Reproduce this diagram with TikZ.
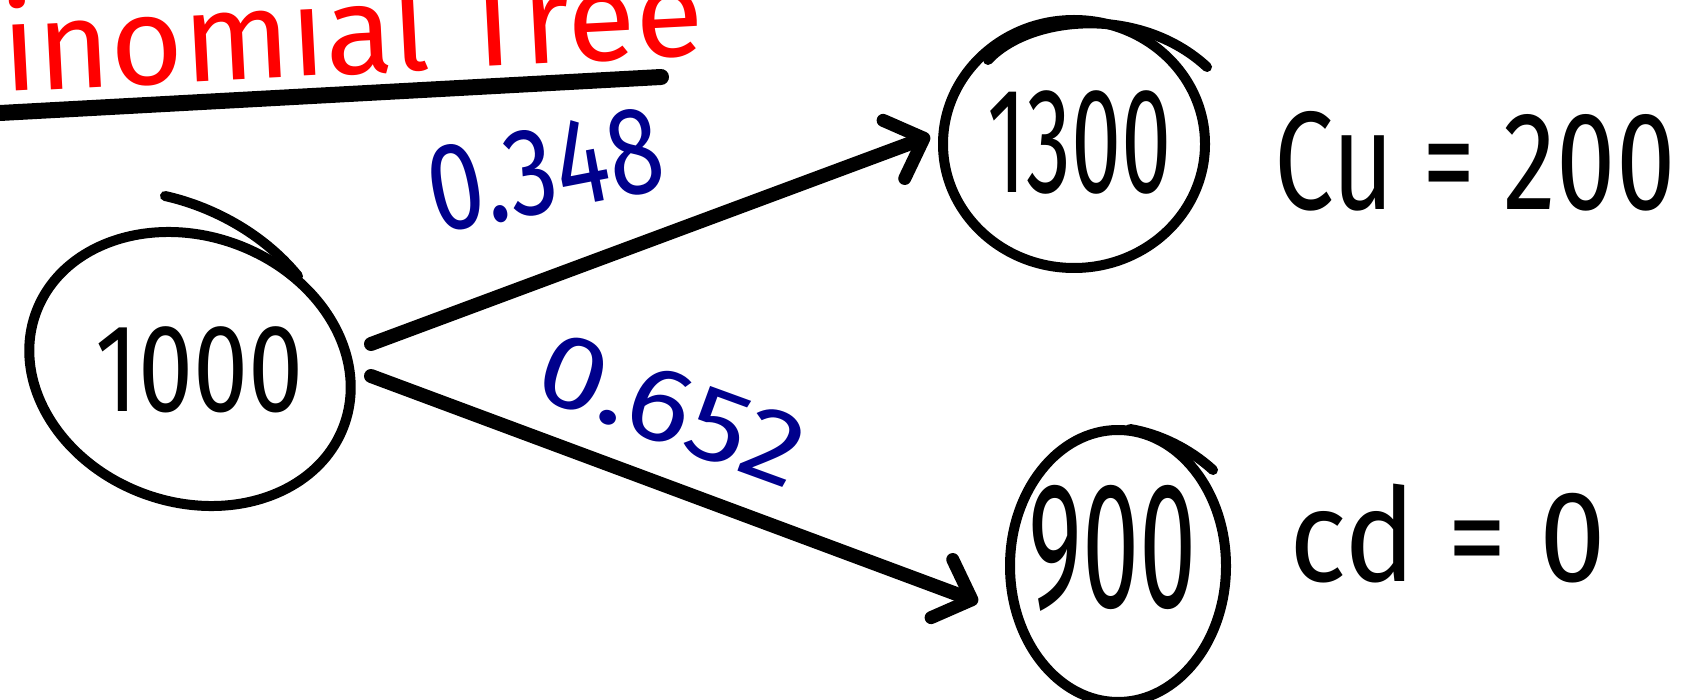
\documentclass[tikz,border=0pt]{standalone}
\usepackage{fontspec}
\setmainfont{Fira Sans}
\usetikzlibrary{shapes.geometric,arrows.meta}
\definecolor{inkblue}{RGB}{0,0,140}
\definecolor{inkred}{RGB}{255,0,0}
\newcommand{\hwtext}[3]{{\fontsize{#1}{#1}\selectfont\scalebox{#2}[1]{#3}}}
\begin{document}
\begin{tikzpicture}[x=1pt,y=-1pt,
  ink/.style={line width=10pt, line cap=round, line join=round},
  bubble/.style={ellipse, draw, ink, inner sep=0pt},
  branch/.style={line width=14pt, line cap=round, line join=round,
    -{Straight Barb[length=32pt,width=62pt,line width=13pt,round]}},
  prob/.style={text=inkblue, inner sep=0pt},
  plain/.style={inner sep=0pt}]
\useasboundingbox (0,0) rectangle (1685,700);
\clip (0,0) rectangle (1685,700);
\fill[white] (0,0) rectangle (1685,700);

% title
\node[plain, text=inkred, anchor=base west, rotate=3] (title) at (4,92) {\hwtext{125}{1.0}{inomial Tree}};
\coordinate (ulA) at (0,113);
\coordinate (ulB) at (661,77);
\draw[line width=16pt, line cap=round] (ulA) -- (ulB);

% nodes (circles)
\node[bubble, rotate=-20, minimum width=328pt, minimum height=266pt] (root) at (190,369) {};
\node[bubble, minimum width=262pt, minimum height=248pt] (up) at (1074,144) {};
\node[bubble, minimum width=216pt, minimum height=272pt] (low) at (1118,566) {};

% values in circles
\node[plain] (rootval) at (200,370) {\hwtext{125}{0.79}{1000}};
\node[plain] (upval) at (1080,142) {\hwtext{150}{0.6}{1300}};
\node[plain] (lowval) at (1113,548) {\hwtext{180}{0.57}{900}};

% extra strokes over circles
\draw[ink] (165,196) .. controls (210,206) and (262,232) .. (298,276);
\draw[ink] (988,60) .. controls (1030,15) and (1140,5) .. (1207,67);
\draw[ink] (1130,429) .. controls (1160,434) and (1190,449) .. (1213,470);

% branches
\draw[branch] ([xshift=181pt,yshift=25pt]root.center) -- ([xshift=-8pt,yshift=8pt]up.west);
\draw[branch] ([xshift=181pt,yshift=-7pt]root.center) -- ([xshift=-27pt,yshift=-36pt]low.west);

% probabilities
\node[prob, rotate=11] (pu) at (545,170) {\hwtext{125}{0.8}{0.348}};
\node[prob, rotate=-20] (pd) at (672,410) {\hwtext{105}{1.15}{0.652}};

% payoffs
\node[plain] (cu) at (1475,161) {\hwtext{140}{0.76}{Cu = 200}};
\node[plain] (cd) at (1448,534) {\hwtext{130}{0.92}{cd = 0}};
\end{tikzpicture}
\end{document}
